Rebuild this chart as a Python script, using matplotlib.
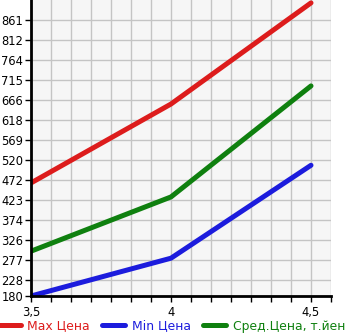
import numpy as np
import matplotlib.pyplot as plt

x = [3.5, 4.0, 4.5]
max_price = [465, 657, 903]
min_price = [190, 282, 508]
avg_price = [299, 431, 701]

labels = ["Max Цена", "Min Цена", "Сред.Цена, т.йен"]
colors = ["#dd1c1c", "#1c1cdd", "#0f800f"]

ytick_vals = [190, 228.7, 277.3, 326, 374.7, 423.3, 472, 520.7, 569.3,
              618, 666.7, 715.3, 764, 812.7, 861.3]
ytick_text = ["180", "228", "277", "326", "374", "423", "472", "520", "569",
              "618", "666", "715", "764", "812", "861"]

fig = plt.figure(figsize=(3.45, 3.35), dpi=100)
ax = fig.add_axes([31 / 345, 39 / 335, 300 / 345, 296 / 335])
ax.set_facecolor("#f6f6f6")

for ys, c, lab in zip([max_price, min_price, avg_price], colors, labels):
    ax.plot(x, ys, color=c, lw=3.6, solid_capstyle="round", label=lab)

step = 0.5 / 7
ax.set_xlim(3.5, 3.5 + 15 * step)
ax.set_ylim(190, 910)
ax.set_xticks([3.5 + i * step for i in range(16)], minor=True)
ax.set_xticks([3.5, 4.0, 4.5])
ax.set_xticklabels(["3,5", "4", "4,5"])
ax.set_yticks(ytick_vals)
ax.set_yticklabels(ytick_text)
ax.grid(True, which="both", color="#c4c4c4", lw=1)
ax.set_axisbelow(True)

for s in ["top", "right"]:
    ax.spines[s].set_visible(False)
ax.spines["left"].set_linewidth(2)
ax.spines["bottom"].set_linewidth(2)
ax.tick_params(axis="both", which="both", length=4, width=1, labelsize=8.3, pad=1.5)
ax.tick_params(axis="x", which="major", pad=3)

fig.legend(loc="lower left", bbox_to_anchor=(-0.015, 0.0), ncol=3, frameon=False,
           fontsize=8.9, handlelength=1.9, handletextpad=0.5, columnspacing=1.0,
           borderaxespad=0.1, borderpad=0.1, labelcolor="linecolor")

fig.savefig("out.png", dpi=100)
